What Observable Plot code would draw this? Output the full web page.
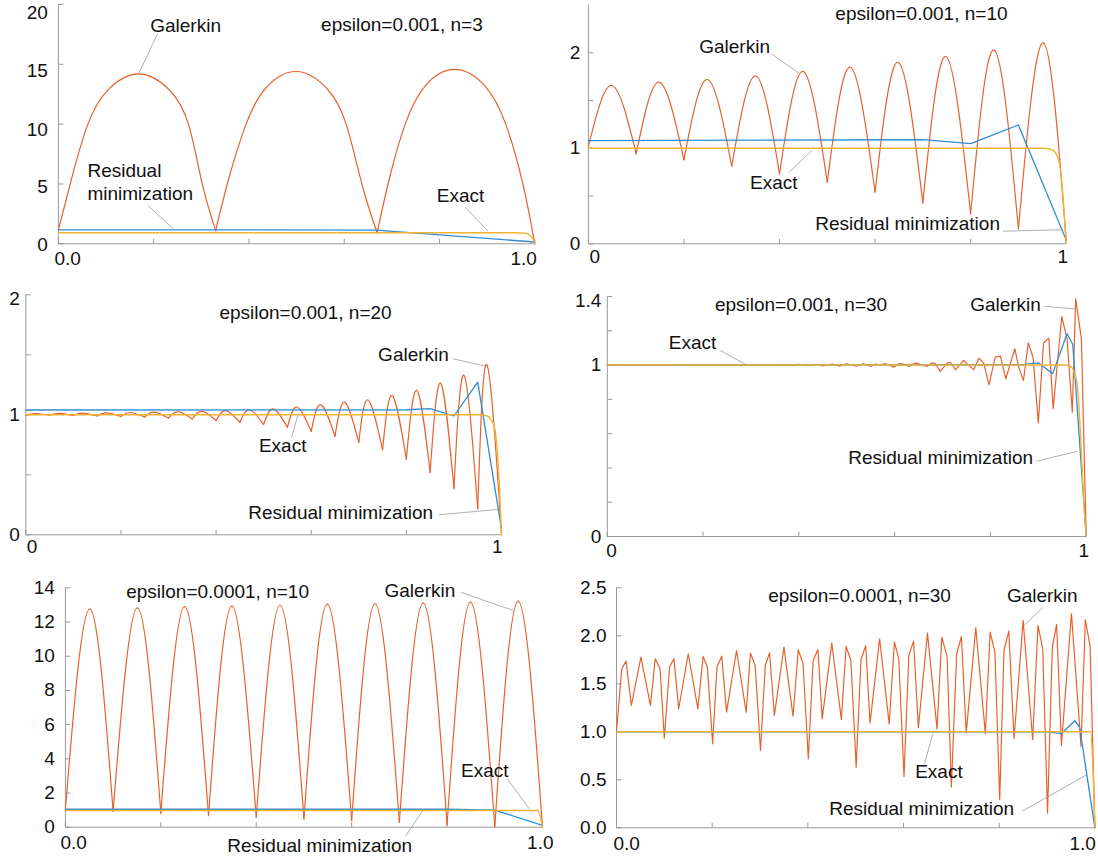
<!DOCTYPE html>
<html><head><meta charset="utf-8">
<script src="https://cdn.jsdelivr.net/npm/d3@7"></script>
<script src="https://cdn.jsdelivr.net/npm/@observablehq/plot@0.6"></script>
<style>
html,body{margin:0;padding:0;background:#fff;}
#chart{position:relative;width:1098px;height:856px;overflow:hidden;background:#fff;}
#chart svg{position:absolute;left:0;top:0;background:transparent;overflow:visible;}
</style></head><body><div id="chart"></div>
<script>
// ---------------- DATA ----------------
const xTickValues = [0, 0.2, 0.4, 0.6, 0.8, 1];

// Panel 1: epsilon=0.001, n=3
const p1GalX = [0,0.028,0.062,0.105,0.169,0.232,0.273,0.302,0.33, 0.33,0.358,0.394,0.435,0.499,0.563,0.604,0.637,0.669, 0.669,0.695,0.728,0.77,0.832,0.895,0.939,0.975,1.0];
const p1GalY = [1.17,5.5,10,12.9,14.2,12.9,10,5,1.1, 1.1,5.5,10,13.0,14.4,13.0,10,5,0.92, 0.92,5.5,10,13.2,14.57,13.2,10,5,0];
const p1GalSeg = [0,0,0,0,0,0,0,0,0, 1,1,1,1,1,1,1,1,1, 2,2,2,2,2,2,2,2,2];
const p1ResX = [0, 0.333, 0.667, 1];
const p1ResY = [1.17, 1.17, 1.15, 0.15];
const p1ExX = [0, 0.96, 0.98, 0.99, 0.996, 1];
const p1ExY = [0.92, 0.92, 0.88, 0.7, 0.4, 0];
const p1YTicks = [0, 5, 10, 15, 20];
const p1YLabels = [0, 5, 10, 15, 20];
const p1XLabels = ["0.0", "1.0"];

// Panel 2: epsilon=0.001, n=10
const p2TroughX = [0,0.1,0.2,0.3,0.4,0.5,0.6,0.7,0.8,0.9,1.0];
const p2TroughY = [1.02,0.942,0.88,0.813,0.733,0.646,0.541,0.429,0.314,0.157,0.03];
const p2PeakX = [0.049,0.148,0.249,0.35,0.449,0.548,0.648,0.748,0.849,0.952];
const p2PeakY = [1.658,1.693,1.721,1.759,1.805,1.85,1.902,1.962,2.031,2.105];
const p2ResX = [0, 0.7, 0.8, 0.9, 1.0];
const p2ResY = [1.08, 1.09, 1.05, 1.245, 0.04];
const p2ExX = [0, 0.95, 0.97, 0.982, 0.989, 0.994, 1];
const p2ExY = [1, 1, 0.985, 0.91, 0.73, 0.45, 0];
const p2YTicks = [0, 0.5, 1, 1.5, 2];
const p2YLabels = [0, 1, 2];
const p2XLabels = ["0", "1"];

// Panel 3: epsilon=0.001, n=20
const p3TroughX = [0,0.05,0.1,0.15,0.2,0.25,0.3,0.35,0.4,0.45,0.5,0.55,0.6,0.65,0.7,0.75,0.8,0.85,0.9,0.95,1.0];
const p3TroughY = [0.995,0.997,0.994,0.99,0.986,0.981,0.972,0.965,0.952,0.938,0.92,0.895,0.862,0.82,0.77,0.708,0.63,0.52,0.385,0.218,0];
const p3PeakX = [0.02,0.07,0.12,0.17,0.22,0.27,0.32,0.37,0.42,0.47,0.52,0.57,0.62,0.67,0.719,0.77,0.822,0.872,0.921,0.969];
const p3PeakY = [1.01,1.012,1.014,1.016,1.019,1.022,1.026,1.03,1.035,1.042,1.05,1.065,1.085,1.105,1.125,1.161,1.203,1.264,1.33,1.419];
const p3ResX = [0, 0.8, 0.85, 0.9, 0.95, 1];
const p3ResY = [1.04, 1.042, 1.052, 0.99, 1.272, 0.05];
const p3ExX = [0, 0.955, 0.97, 0.978, 0.985, 0.99, 0.995, 1];
const p3ExY = [1, 1, 0.99, 0.96, 0.9, 0.75, 0.45, 0];
const p3YTicks = [0, 0.5, 1, 1.5, 2];
const p3YLabels = [0, 1, 2];
const p3XLabels = ["0", "1"];

// Panel 4: epsilon=0.001, n=30
const p4GalX = [0,0.35,0.37,0.385,0.40,0.42,0.435,0.45,0.47,0.485,0.50,0.52,0.535,0.55,0.56,0.570,0.581,0.588,0.598,0.609,0.619,0.630,0.640,0.647,0.658,0.668,0.678,0.685,0.695,0.710,0.717,0.727,0.744,0.755,0.765,0.776,0.786,0.797,0.810,0.821,0.832,0.851,0.859,0.869,0.879,0.889,0.900,0.911,0.922,0.931,0.949,0.960,0.971,0.978,0.990,1.0];
const p4GalY = [1.0,1.0,1.003,0.997,1.004,0.996,1.005,0.995,1.006,0.994,1.007,0.993,1.008,0.992,1.006,1.002,1.008,1.002,0.988,1.008,1.006,0.992,1.008,1.011,0.999,0.992,1.013,1.008,0.963,1.013,1.015,0.972,1.027,0.998,0.972,1.040,1.011,0.885,1.046,1.052,0.920,1.095,0.988,0.910,1.130,1.046,0.663,1.130,1.157,0.745,1.283,1.153,0.725,1.386,1.153,0];
const p4ResX = [0, 0.867, 0.9, 0.93, 0.96, 0.972, 1.0];
const p4ResY = [1.0, 1.002, 1.013, 0.95, 1.183, 1.12, 0];
const p4ExX = [0, 0.955, 0.968, 0.976, 0.982, 0.988, 0.994, 1];
const p4ExY = [1, 1, 0.99, 0.95, 0.87, 0.6, 0.25, 0];
const p4YTicks = [0, 0.2, 0.4, 0.6, 0.8, 1, 1.2, 1.4];
const p4YLabels = [0, 1, 1.4];
const p4XLabels = ["0", "1"];

// Panel 5: epsilon=0.0001, n=10
const p5TroughX = [0,0.1,0.2,0.3,0.4,0.5,0.6,0.7,0.8,0.9,1.0];
const p5TroughY = [1.05,0.936,0.82,0.68,0.585,0.487,0.39,0.29,0.156,0.04,0];
const p5PeakX = [0.051,0.151,0.25,0.349,0.45,0.549,0.649,0.75,0.849,0.949];
const p5PeakY = [12.77,12.83,12.9,12.93,12.98,13.04,13.06,13.12,13.16,13.22];
const p5ResX = [0, 0.8, 0.9, 1.0];
const p5ResY = [1.05, 1.05, 1.0, 0.1];
const p5ExX = [0, 0.99, 1];
const p5ExY = [0.98, 0.98, 0];
const p5YTicks = [0, 2, 4, 6, 8, 10, 12, 14];
const p5YLabels = [0, 2, 4, 6, 8, 10, 12, 14];
const p5XLabels = ["0.0", "1.0"];

// Panel 6: epsilon=0.0001, n=30
const p6GalX = [0,0.011,0.020,0.031,0.051,0.071,0.081,0.091,0.100,0.111,0.120,0.130,0.150,0.170,0.181,0.190,0.201,0.210,0.220,0.230,0.251,0.271,0.280,0.290,0.301,0.311,0.320,0.330,0.350,0.369,0.380,0.390,0.401,0.411,0.421,0.430,0.450,0.470,0.480,0.490,0.501,0.511,0.521,0.530,0.550,0.570,0.581,0.590,0.601,0.611,0.621,0.631,0.650,0.670,0.680,0.691,0.700,0.711,0.721,0.731,0.751,0.771,0.781,0.791,0.801,0.810,0.820,0.831,0.850,0.870,0.881,0.891,0.901,0.911,0.920,0.930,0.951,0.971,0.980,0.990,1.0];
const p6GalY = [1.0,1.656,1.736,1.274,1.778,1.274,1.760,1.656,0.934,1.674,1.760,1.240,1.813,1.240,1.785,1.674,0.875,1.674,1.788,1.205,1.847,1.205,1.819,1.691,0.806,1.691,1.823,1.170,1.882,1.163,1.854,1.708,0.719,1.743,1.858,1.135,1.924,1.128,1.889,1.743,0.632,1.750,1.899,1.090,1.969,1.083,1.934,1.760,0.535,1.795,1.944,1.042,2.028,1.031,1.986,1.785,0.424,1.813,1.993,0.986,2.083,0.979,2.038,1.830,0.292,1.847,2.049,0.927,2.160,0.917,2.108,1.865,0.153,1.882,2.118,0.858,2.229,0.851,2.167,1.889,0];
const p6ResX = [0, 0.9, 0.93, 0.958, 0.968, 1.0];
const p6ResY = [1.0, 1.0, 0.98, 1.115, 1.05, 0];
const p6ExX = [0, 0.991, 0.996, 1];
const p6ExY = [1, 1, 0.6, 0];
const p6YTicks = [0, 0.5, 1, 1.5, 2, 2.5];
const p6YLabels = [0, 0.5, 1, 1.5, 2, 2.5];
const p6XLabels = ["0.0", "1.0"];

// Titles & callouts (text, with anchor point and leader line, in data units)
const p1Notes = [
  {text: "epsilon=0.001, n=3", x: 0.721, y: 18.33, anchor: "middle"},
  {text: "Galerkin", x: 0.267, y: 18.25, anchor: "middle", lx1: 0.208, ly1: 17.55, lx2: 0.169, ly2: 14.26},
  {text: "Residual\nminimization", x: 0.061, y: 5.22, anchor: "start", lx1: 0.188, ly1: 3.20, lx2: 0.242, ly2: 1.22},
  {text: "Exact", x: 0.844, y: 4.04, anchor: "middle", lx1: 0.854, ly1: 3.06, lx2: 0.902, ly2: 1.03}
];
const p2Notes = [
  {text: "epsilon=0.001, n=10", x: 0.697, y: 2.409, anchor: "middle"},
  {text: "Galerkin", x: 0.306, y: 2.059, anchor: "middle", lx1: 0.383, ly1: 1.99, lx2: 0.441, ly2: 1.787},
  {text: "Exact", x: 0.388, y: 0.637, anchor: "middle", lx1: 0.420, ly1: 0.750, lx2: 0.468, ly2: 0.977},
  {text: "Residual minimization", x: 0.668, y: 0.213, anchor: "middle", lx1: 0.868, ly1: 0.132, lx2: 0.992, ly2: 0.147}
];
const p3Notes = [
  {text: "epsilon=0.001, n=20", x: 0.588, y: 1.848, anchor: "middle"},
  {text: "Galerkin", x: 0.815, y: 1.503, anchor: "middle", lx1: 0.898, ly1: 1.467, lx2: 0.968, ly2: 1.403},
  {text: "Exact", x: 0.540, y: 0.738, anchor: "middle", lx1: 0.559, ly1: 0.813, lx2: 0.572, ly2: 1.0},
  {text: "Residual minimization", x: 0.662, y: 0.186, anchor: "middle", lx1: 0.869, ly1: 0.167, lx2: 0.992, ly2: 0.211}
];
const p4Notes = [
  {text: "epsilon=0.001, n=30", x: 0.4045, y: 1.352, anchor: "middle"},
  {text: "Galerkin", x: 0.8315, y: 1.352, anchor: "middle", lx1: 0.914, ly1: 1.342, lx2: 0.976, ly2: 1.328},
  {text: "Exact", x: 0.178, y: 1.129, anchor: "middle", lx1: 0.236, ly1: 1.085, lx2: 0.290, ly2: 1.002},
  {text: "Residual minimization", x: 0.696, y: 0.458, anchor: "middle", lx1: 0.896, ly1: 0.439, lx2: 0.980, ly2: 0.496}
];
const p5Notes = [
  {text: "epsilon=0.0001, n=10", x: 0.319, y: 13.74, anchor: "middle"},
  {text: "Galerkin", x: 0.743, y: 13.84, anchor: "middle", lx1: 0.829, ly1: 13.74, lx2: 0.939, ly2: 12.67},
  {text: "Exact", x: 0.879, y: 3.316, anchor: "middle", lx1: 0.926, ly1: 2.83, lx2: 0.973, ly2: 1.05},
  {text: "Residual minimization", x: 0.533, y: -1.117, anchor: "middle", lx1: 0.713, ly1: -0.526, lx2: 0.750, ly2: 1.018}
];
const p6Notes = [
  {text: "epsilon=0.0001, n=30", x: 0.508, y: 2.420, anchor: "middle"},
  {text: "Galerkin", x: 0.890, y: 2.420, anchor: "middle", lx1: 0.892, ly1: 2.298, lx2: 0.852, ly2: 2.107},
  {text: "Exact", x: 0.674, y: 0.586, anchor: "middle", lx1: 0.644, ly1: 0.667, lx2: 0.661, ly2: 0.979},
  {text: "Residual minimization", x: 0.638, y: 0.198, anchor: "middle", lx1: 0.848, ly1: 0.173, lx2: 0.984, ly2: 0.555}
];

// ---------------- STYLE ----------------
const RED = "#E6622D", BLUE = "#2E8BD4", YEL = "#F2B233";
const AXIS = "#9a9a9a", LEAD = "#9a9a9a", INK = "#111";
const FONT = "'Liberation Sans', Arial, Helvetica, sans-serif";
const FS = 19;
const W = 1098, H = 856;

// table builders
const zipXY = (xs, ys, segs) => xs.map((x, i) => ({x, y: ys[i], seg: segs ? segs[i] : 0})).slice(0, Math.min(xs.length, ys.length));
function arches(tx, ty, px, py) {
  const out = [];
  for (let i = 0; i < px.length; i++) {
    out.push({x: tx[i], y: ty[i], seg: i});
    out.push({x: px[i], y: py[i], seg: i});
    out.push({x: tx[i + 1], y: ty[i + 1], seg: i});
  }
  return out;
}

const tickUp = {draw(ctx) { ctx.moveTo(0, 0); ctx.lineTo(0, -5); }};
const tickRight = {draw(ctx) { ctx.moveTo(0, 0); ctx.lineTo(5, 0); }};

// frame boxes in page pixels and label nudges (layout)
const panels = [
  {frame: {l: 57.9, r: 534.3, t: 4, b: 243.3}, yMax: 20, gal: zipXY(p1GalX, p1GalY, p1GalSeg), galCurve: "natural",
   res: zipXY(p1ResX, p1ResY), ex: zipXY(p1ExX, p1ExY), yTicks: p1YTicks, yLabels: p1YLabels, yFmt: d => String(d), yGap: 10.5, ydy: [1, 3, 6, 7, 8],
   xLabels: p1XLabels, xdx: [-4, 2], xdy: 15, notes: p1Notes},
  {frame: {l: 587.9, r: 1065.7, t: 4.6, b: 243.3}, yMax: 2.5, gal: arches(p2TroughX, p2TroughY, p2PeakX, p2PeakY), galCurve: "natural",
   res: zipXY(p2ResX, p2ResY), ex: zipXY(p2ExX, p2ExY), yTicks: p2YTicks, yLabels: p2YLabels, yFmt: d => String(d), yGap: 8, ydy: [0, 0, 0],
   xLabels: p2XLabels, xdx: [1, 2], xdy: 13, notes: p2Notes},
  {frame: {l: 25.3, r: 501, t: 294.3, b: 534.3}, yMax: 2, gal: arches(p3TroughX, p3TroughY, p3PeakX, p3PeakY), galCurve: "natural",
   res: zipXY(p3ResX, p3ResY), ex: zipXY(p3ExX, p3ExY), yTicks: p3YTicks, yLabels: p3YLabels, yFmt: d => String(d), yGap: 6, ydy: [0, 0, 4],
   xLabels: p3XLabels, xdx: [1, 1], xdy: 12, notes: p3Notes},
  {frame: {l: 606.8, r: 1085.7, t: 296, b: 536}, yMax: 1.4, gal: zipXY(p4GalX, p4GalY), galCurve: "linear",
   res: zipXY(p4ResX, p4ResY), ex: zipXY(p4ExX, p4ExY), yTicks: p4YTicks, yLabels: p4YLabels, yFmt: d => String(d), yGap: 6, ydy: [0, 0, 4],
   xLabels: p4XLabels, xdx: [-1, 3], xdy: 14, notes: p4Notes},
  {frame: {l: 64.9, r: 542, t: 587.3, b: 826.7}, yMax: 14, gal: arches(p5TroughX, p5TroughY, p5PeakX, p5PeakY), galCurve: "natural",
   res: zipXY(p5ResX, p5ResY), ex: zipXY(p5ExX, p5ExY), yTicks: p5YTicks, yLabels: p5YLabels, yFmt: d => String(d), yGap: 10.5, ydy: [0, 0, 0, 0, 0, 0, 0, 0],
   xLabels: p5XLabels, xdx: [-5, 11], xdy: 16, notes: p5Notes},
  {frame: {l: 616, r: 1094.4, t: 587.3, b: 827.3}, yMax: 2.5, gal: zipXY(p6GalX, p6GalY), galCurve: "linear",
   res: zipXY(p6ResX, p6ResY), ex: zipXY(p6ExX, p6ExY), yTicks: p6YTicks, yLabels: p6YLabels, yFmt: d => d.toFixed(1), yGap: 10, ydy: [0, 0, 0, 0, 0, 0],
   xLabels: p6XLabels, xdx: [-3, 1], xdy: 16, notes: p6Notes}
];

function makePanel(p) {
  const f = p.frame;
  const leaders = p.notes.filter(d => d.lx1 != null);
  const textOpts = {fontSize: FS, fill: INK, fontFamily: FONT};
  const yLabelMarks = p.yLabels.map((v, i) =>
    Plot.text([v], {x: 0, y: d => d, text: p.yFmt, textAnchor: "end", dx: -p.yGap, dy: p.ydy[i] || 0, ...textOpts}));
  return Plot.plot({
    width: W, height: H,
    marginLeft: f.l, marginRight: W - f.r, marginTop: f.t, marginBottom: H - f.b,
    x: {type: "linear", domain: [0, 1], axis: null},
    y: {type: "linear", domain: [0, p.yMax], axis: null},
    style: {background: "transparent", fontFamily: FONT, overflow: "visible", position: "absolute", left: "0px", top: "0px"},
    marks: [
      Plot.ruleY([0], {x1: 0, x2: 1, stroke: AXIS, strokeWidth: 1}),
      Plot.ruleX([0], {y1: 0, y2: p.yMax, stroke: AXIS, strokeWidth: 1}),
      Plot.dot(xTickValues, {x: d => d, y: 0, symbol: tickUp, fill: "none", stroke: AXIS, strokeWidth: 1}),
      Plot.dot(p.yTicks, {x: 0, y: d => d, symbol: tickRight, fill: "none", stroke: AXIS, strokeWidth: 1}),
      ...yLabelMarks,
      Plot.text([p.xLabels[0]], {x: 0, y: 0, text: d => d, textAnchor: "start", dx: p.xdx[0], dy: p.xdy, ...textOpts}),
      Plot.text([p.xLabels[1]], {x: 1, y: 0, text: d => d, textAnchor: "end", dx: p.xdx[1], dy: p.xdy, ...textOpts}),
      Plot.line(p.gal, {x: "x", y: "y", z: "seg", curve: p.galCurve, stroke: RED, strokeWidth: 1.2}),
      Plot.line(p.res, {x: "x", y: "y", stroke: BLUE, strokeWidth: 1.3}),
      Plot.line(p.ex, {x: "x", y: "y", curve: "monotone-x", stroke: YEL, strokeWidth: 1.4}),
      Plot.link(leaders, {x1: "lx1", y1: "ly1", x2: "lx2", y2: "ly2", stroke: LEAD, strokeWidth: 0.8}),
      Plot.text(p.notes.filter(d => d.anchor === "middle"), {x: "x", y: "y", text: "text", textAnchor: "middle", ...textOpts}),
      Plot.text(p.notes.filter(d => d.anchor === "start"), {x: "x", y: "y", text: "text", textAnchor: "start", lineHeight: 1.2, ...textOpts})
    ]
  });
}

const chart = document.getElementById("chart");
for (const p of panels) chart.appendChild(makePanel(p));
</script></body></html>
